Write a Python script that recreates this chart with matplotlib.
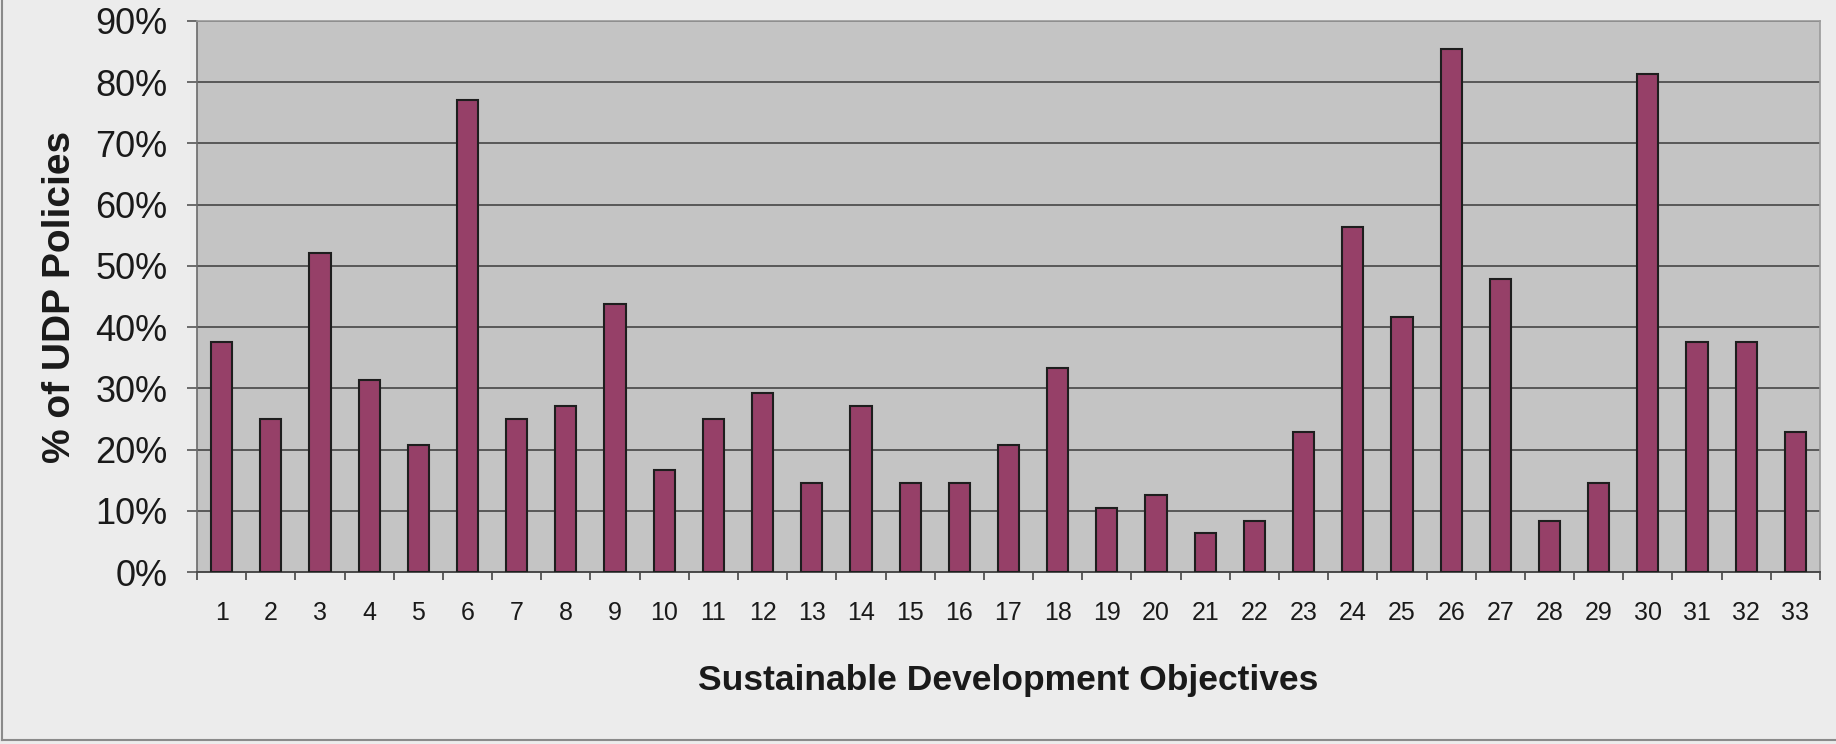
import matplotlib
matplotlib.use("Agg")
import matplotlib.pyplot as plt
from matplotlib.ticker import FixedLocator, PercentFormatter
import numpy as np

# Share of UDP policies addressing each sustainable development objective (%)
objectives = [str(i) for i in range(1, 34)]
share_pct = [37.5, 25.0, 52.1, 31.3, 20.8, 77.1, 25.0, 27.1, 43.8, 16.7,
             25.0, 29.2, 14.6, 27.1, 14.6, 14.6, 20.8, 33.3, 10.4, 12.5,
             6.3, 8.3, 22.9, 56.3, 41.7, 85.4, 47.9, 8.3, 14.6, 81.3,
             37.5, 37.5, 22.9]
y_ticks = [0, 10, 20, 30, 40, 50, 60, 70, 80, 90]

FONT = ["Liberation Sans", "DejaVu Sans"]
plt.rcParams["font.family"] = FONT

W, H = 1836, 744
fig = plt.figure(figsize=(W / 100, H / 100), dpi=100, facecolor="#ececec")

left, right, top, bottom = 197, 1820, 21, 572
ax = fig.add_axes([left / W, 1 - bottom / H, (right - left) / W, (bottom - top) / H])
ax.set_facecolor("#c4c4c4")

x = np.arange(1, len(objectives) + 1)
ax.bar(x, share_pct, width=0.43, color="#964068", edgecolor="#1e1e1e",
       linewidth=1.5, zorder=3)

ax.set_xlim(0.5, len(objectives) + 0.5)
ax.set_ylim(0, 90)

# Horizontal gridlines
ax.set_axisbelow(True)
ax.yaxis.set_major_locator(FixedLocator(y_ticks))
ax.yaxis.set_major_formatter(PercentFormatter(decimals=0))
ax.grid(axis="y", color="#3a3a3a", linewidth=1.1)
ax.grid(axis="x", visible=False)

# Category labels at bar centres, tick marks between categories
ax.set_xticks(x)
ax.set_xticklabels(objectives)
ax.set_xticks(np.arange(0.5, len(objectives) + 1, 1.0), minor=True)
ax.tick_params(axis="x", which="major", length=0, pad=21, labelsize=18,
               labelcolor="#1a1a1a")
ax.tick_params(axis="x", which="minor", length=5.5, width=1.2, color="#444444",
               direction="out")
ax.tick_params(axis="y", which="major", length=7.2, width=1.2, color="#555555",
               direction="out", pad=14, labelsize=26, labelcolor="#1a1a1a")

for side in ("top", "right"):
    ax.spines[side].set_color("#9a9a9a")
    ax.spines[side].set_linewidth(1.2)
ax.spines["left"].set_color("#6a6a6a")
ax.spines["left"].set_linewidth(1.2)
ax.spines["bottom"].set_color("#4a4a4a")
ax.spines["bottom"].set_linewidth(1.4)

fig.text(60 / W, 1 - 297 / H, "% of UDP Policies", rotation=90, ha="center",
         va="center", fontsize=28, fontweight="bold", color="#1a1a1a")
fig.text((left + right) / 2 / W, 54 / H, "Sustainable Development Objectives",
         ha="center", va="baseline", fontsize=25.5, fontweight="bold",
         color="#1a1a1a")

# Outer chart frame (left and bottom edges)
fig.add_artist(plt.Line2D([2 / W, 2 / W], [4 / H, 1], transform=fig.transFigure,
                          color="#8a8a8a", linewidth=1.5))
fig.add_artist(plt.Line2D([2 / W, 1], [4 / H, 4 / H], transform=fig.transFigure,
                          color="#8a8a8a", linewidth=1.5))

fig.savefig("out.png", dpi=100, facecolor=fig.get_facecolor())
